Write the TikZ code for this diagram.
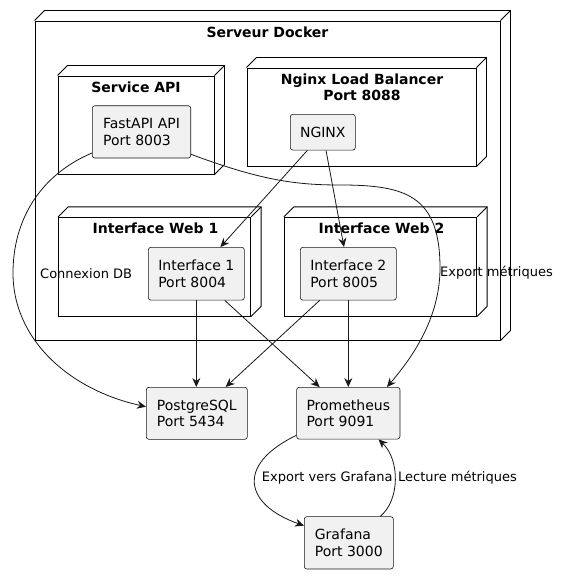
\documentclass[tikz,border=0pt]{standalone}
\usepackage{fontspec}
\setmainfont{DejaVu Sans}
\usetikzlibrary{arrows.meta,calc}
\definecolor{boxfill}{HTML}{F1F1F1}
\definecolor{ink}{HTML}{181818}
\newcommand\threedfaces[1]{%
  \draw[cont] (#1.north west) -- ++(10,-10) -- ($(#1.north east)+(10,-10)$) -- ($(#1.south east)+(10,-10)$) -- (#1.south east);
  \draw[cont] (#1.north east) -- ++(10,-10);}
\begin{document}
\begin{tikzpicture}[x=1pt,y=-1pt,
  cont/.style={draw=black,line width=0.9pt,inner sep=0pt,line join=miter},
  comp/.style={draw=ink,line width=0.6pt,fill=boxfill,rounded corners=2.5pt,align=left,inner sep=0pt,font=\fontsize{14}{16.3}\selectfont},
  ttl/.style={font=\bfseries\fontsize{14}{16.3}\selectfont,align=center,inner sep=0pt},
  lbl/.style={font=\fontsize{13}{15}\selectfont,inner sep=0pt,anchor=west},
  arr/.style={draw=ink,line width=0.8pt,-{Stealth[length=9pt,width=8pt,inset=3pt]}}]
\fill[white] (0,0) rectangle (574,578);
\useasboundingbox (0,0) rectangle (574,578);

% containers
\node[cont,minimum width=465pt,minimum height=319pt] (docker) at (267.5,180.5) {};
\threedfaces{docker}
\node[ttl] (tdocker) at (267.5,32) {Serveur Docker};

\node[cont,minimum width=156pt,minimum height=98pt] (service) at (136,125) {};
\threedfaces{service}
\node[ttl] (tservice) at (136,87) {Service API};

\node[cont,minimum width=229pt,minimum height=98pt] (nginxnode) at (361.5,117) {};
\threedfaces{nginxnode}
\node[ttl] (tnginx) at (362,87.2) {Nginx Load Balancer\\Port 8088};

\node[cont,minimum width=192.2pt,minimum height=98.7pt] (web1) at (154.6,266.65) {};
\threedfaces{web1}
\node[ttl] (tweb1) at (155.5,228) {Interface Web 1};

\node[cont,minimum width=192.4pt,minimum height=98.7pt] (web2) at (380.5,266.65) {};
\threedfaces{web2}
\node[ttl] (tweb2) at (381.5,228) {Interface Web 2};

% components
\node[comp,minimum width=98.4pt,minimum height=52.3pt] (fastapi) at (141.5,131.85) {FastAPI API\\Port 8003};
\node[comp,minimum width=65pt,minimum height=35.7pt] (nginx) at (322.8,132.2) {NGINX};
\node[comp,minimum width=96pt,minimum height=52.7pt] (int1) at (196.3,273.7) {Interface 1\\Port 8004};
\node[comp,minimum width=96pt,minimum height=52.7pt] (int2) at (348.3,273.7) {Interface 2\\Port 8005};
\node[comp,minimum width=101pt,minimum height=52pt] (pg) at (196.8,413.3) {PostgreSQL\\Port 5434};
\node[comp,minimum width=103.3pt,minimum height=51.7pt] (prom) at (348.3,413.2) {Prometheus\\Port 9091};
\node[comp,minimum width=89pt,minimum height=52.3pt] (graf) at (348.8,542.8) {Grafana\\Port 3000};

% connectors
\draw[arr] ([yshift=5.3pt]fastapi.south west) .. controls (40,175) and (13,220) .. (13,273)
  .. controls (13,340) and (70,390) .. ([yshift=6.6pt]pg.west);
\draw[arr] ([yshift=4pt]fastapi.south east) .. controls (260,180) and (295,185) .. (340,185)
  .. controls (405,185) and (440,195) .. (440,268)
  .. controls (440,320) and (410,360) .. ([xshift=-13.3pt]prom.north east);
\draw[arr] ([xshift=17.4pt]nginx.south west) -- ([xshift=72.4pt]int1.north west);
\draw[arr] ([xshift=36pt]nginx.south west) -- ([xshift=44pt]int2.north west);
\draw[arr] (int1.south) -- (int1.south |- pg.north);
\draw[arr] ([xshift=76.7pt]int1.south west) -- ([xshift=23.3pt]prom.north west);
\draw[arr] ([xshift=19.7pt]int2.south west) -- ([xshift=79.7pt]pg.north west);
\draw[arr] (int2.south) -- (int2.south |- prom.north);
\draw[arr] ([yshift=4pt]prom.south west) .. controls (235,465) and (245,505) .. ([yshift=-9.3pt]graf.north west);
\draw[arr] ([xshift=-13.3pt]graf.north east) .. controls (400,500) and (400,460) .. ([xshift=-21.7pt]prom.south east);

% labels
\node[lbl] (lconn) at (40,273.3) {Connexion DB};
\node[lbl] (lexp) at (440,273) {Export métriques};
\node[lbl] (lgraf) at (261.7,478) {Export vers Grafana};
\node[lbl] (llect) at (398,478) {Lecture métriques};
\end{tikzpicture}
\end{document}
